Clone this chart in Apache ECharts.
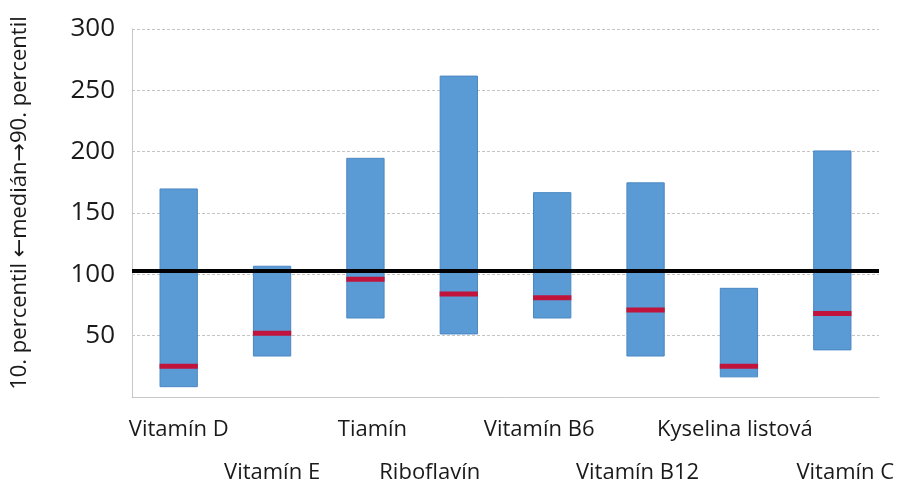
<!DOCTYPE html>
<html><head><meta charset="utf-8">
<script src="https://cdn.jsdelivr.net/npm/echarts@6/dist/echarts.min.js"></script>
<style>html,body{margin:0;padding:0;background:#fff}#c{width:909px;height:494px}</style>
</head><body><div id="c"></div>
<script>
const categories = ['Vitamín D','Vitamín E','Tiamín','Riboflavín','Vitamín B6','Vitamín B12','Kyselina listová','Vitamín C'];
const p10 = [8, 33, 64, 51, 64, 33, 16, 38];
const p90 = [170, 107, 195, 262, 167, 175, 89, 201];
const median = [25, 52, 96, 84, 81, 71, 25, 68];
const refLine = 103;
const yTicks = [0, 50, 100, 150, 200, 250, 300];

// layout: horizontal nudge of each category label (px), as placed in the original
const labelShift = [0, 0, 7, -29, -13, -8, -4, 13];

const span = p90.map((v, i) => v - p10[i]);
const FONT = 'Open Sans';
const rich = {};
labelShift.forEach((s, i) => {
  rich['l' + i] = {fontFamily: FONT, fontSize: 22, color: '#1a1a1a',
    padding: [0, s < 0 ? -2 * s : 0, 0, s > 0 ? 2 * s : 0]};
});
const chart = echarts.init(document.getElementById('c'), null, {renderer: 'canvas'});
chart.setOption({
  animation: false,
  backgroundColor: '#fff',
  grid: {left: 132, right: 30, top: 29, bottom: 96.5},
  xAxis: {
    type: 'category', data: categories,
    axisLine: {show: true, lineStyle: {color: '#c8c8c8', width: 1}},
    axisTick: {show: false},
    axisLabel: {
      interval: 0, margin: 11, color: '#1a1a1a', fontFamily: FONT, fontSize: 22, lineHeight: 43,
      rich: rich,
      formatter: (v, i) => (i % 2 ? '\n' : '') + '{l' + i + '|' + v + '}'
    }
  },
  yAxis: {
    type: 'value', min: yTicks[0], max: yTicks[yTicks.length - 1], interval: 50,
    name: '10. percentil {ar|\u2190}medián{ar|\u2192}90. percentil',
    nameLocation: 'middle', nameGap: 101,
    nameTextStyle: {fontFamily: FONT, fontSize: 22, color: '#1a1a1a', padding: [0, 0, 0, 20],
      rich: {ar: {fontFamily: 'DejaVu Sans', fontSize: 22, color: '#1a1a1a'}}},
    axisLine: {show: true, lineStyle: {color: '#c8c8c8'}},
    axisTick: {show: false},
    axisLabel: {fontFamily: FONT, fontSize: 26, color: '#1a1a1a', margin: 17,
      formatter: v => (v === 0 ? '' : v)},
    splitLine: {show: true, lineStyle: {color: '#c4c4c4', type: [3, 2], width: 1}}
  },
  series: [
    {type: 'bar', stack: 's', data: p10, barWidth: '41%', itemStyle: {color: 'transparent'}, silent: true},
    {type: 'bar', stack: 's', data: span, barWidth: '41%',
      itemStyle: {color: '#5b9bd5', borderColor: '#4a87c2', borderWidth: 1},
      markLine: {silent: true, symbol: 'none', label: {show: false},
        lineStyle: {color: '#000', width: 4, type: 'solid'},
        data: [{yAxis: refLine}]}
    },
    {type: 'custom', data: median.map((m, i) => [i, m]), z: 5,
      renderItem: (params, api) => {
        const c = api.coord([api.value(0), api.value(1)]);
        const w = api.size([1, 0])[0] * 0.41;
        return {type: 'rect', shape: {x: c[0] - w / 2, y: c[1] - 2.5, width: w, height: 5},
          style: {fill: '#c0143c'}};
      }
    }
  ]
});
</script></body></html>
